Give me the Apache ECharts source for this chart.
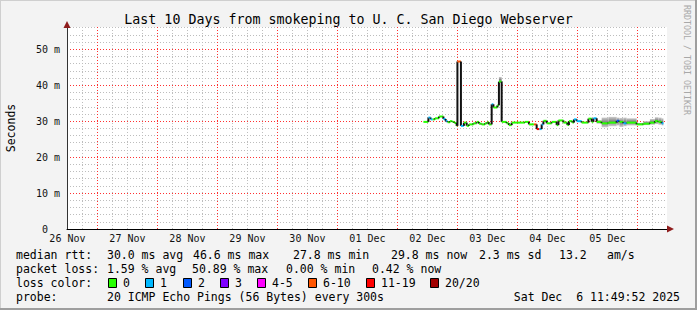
<!DOCTYPE html>
<html><head><meta charset="utf-8">
<script src="https://cdn.jsdelivr.net/npm/echarts@6/dist/echarts.min.js"></script>
<style>html,body{margin:0;padding:0;background:#f3f3f3}#c{width:697px;height:310px}</style>
</head><body><div id="c"></div>
<script>
// ---------- data ----------
const titleText = 'Last 10 Days from smokeping to U. C. San Diego Webserver';
const dayLabels = ['26 Nov','27 Nov','28 Nov','29 Nov','30 Nov','01 Dec','02 Dec','03 Dec','04 Dec','05 Dec'];
// time axis: hours since 26 Nov 00:00
const rangeStartH = 11.831;
const rangeEndH = 251.831;
const stepStartH = [154.4,156.4,157.3,158.1,159.0,160.6,162.4,163.3,164.1,165.0,166.0,166.8,167.7,168.0,169.4,170.6,171.7,172.6,174.4,175.7,176.6,177.7,179.0,180.0,180.6,181.7,182.4,184.0,184.6,185.7,187.7,188.6,189.7,195.0,196.6,198.6,199.7,200.8,201.7,202.4,203.7,205.7,207.7,208.4,210.4,212.0,212.6,214.0,214.6,215.7,217.7,220.4,221.7,222.4,223.7,225.7,228.4,231.7,232.8,234.4,235.7,239.7,242.4,245.0,247.0,248.4,249.7,250.4];
const medianMs = [29.8,31.0,30.5,30.5,30.8,31.3,30.6,30.0,29.7,30.0,29.8,29.5,28.7,46.6,28.7,29.6,28.7,29.1,29.4,29.8,29.3,29.1,29.4,29.7,29.1,34.7,33.8,34.4,41.0,29.8,29.4,28.9,29.6,29.8,29.1,29.1,27.8,27.8,29.1,30.1,29.4,29.8,28.9,30.2,29.6,28.9,30.0,29.6,30.5,30.0,29.6,30.7,29.8,30.8,29.8,29.4,29.6,30.1,29.8,29.4,29.6,29.1,29.3,29.6,30.0,29.8,29.4];
const lossPings = [0,1,1,0,0,0,1,1,0,0,0,0,0,8,1,0,0,0,0,0,0,0,0,0,0,1,0,0,0,0,0,0,0,0,0,8,15,1,1,0,0,0,0,0,0,0,0,0,1,1,0,0,0,1,0,0,0,2,0,1,0,0,0,0,0,0,1];
const smokeLoMs = [null,null,null,null,null,null,null,null,null,null,null,null,null,null,null,null,null,null,null,null,null,null,null,null,null,null,null,null,40.7,null,null,null,null,null,null,null,null,null,null,null,null,null,null,null,null,null,null,null,null,null,null,null,null,null,29.3,28.3,28.6,28.8,28.4,28.6,28.8,29.0,28.9,29.0,29.2,29.0,28.8];
const smokeHiMs = [null,null,null,null,null,null,null,null,null,null,null,null,null,null,null,null,null,null,null,null,null,null,null,null,null,null,null,null,42.3,null,null,null,null,null,null,null,null,null,null,null,null,null,null,null,null,null,null,null,null,null,null,null,null,null,30.3,31.0,31.2,31.0,30.9,31.0,30.8,29.5,30.0,30.6,31.1,31.0,30.8];
const lossBuckets = ['0','1','2','3','4-5','6-10','11-19','20/20'];
const lossColors = ['#26ff00','#00b8ff','#0059ff','#7e00ff','#ff00ff','#ff5500','#ff0000','#a10000'];
const legendLine1 = [['median rtt:',16],['30.0 ms avg',107],['46.6 ms max',193],['27.8 ms min',293],['29.8 ms now',391],['2.3 ms sd',479],['13.2',559],['am/s',607]];
const legendLine2 = [['packet loss:',16],['1.59 % avg',107],['50.89 % max',192],['0.00 % min',286],['0.42 % now',372]];
const lossBoxX = [108,145,183,220,257,308,366,430];
const probeText = '20 ICMP Echo Pings (56 Bytes) every 300s';
const dateText = 'Sat Dec  6 11:49:52 2025';
const yMax = 56.2;

// ---------- helpers ----------
function bucketOf(l){ if(l<=3) return l; if(l<=5) return 4; if(l<=10) return 5; if(l<=19) return 6; return 7; }
const MONO = '"DejaVu Sans Mono", monospace';
const medianData = medianMs.map((v,i)=>[stepStartH[i], stepStartH[i+1], v, i>0?medianMs[i-1]:'-', bucketOf(lossPings[i])]);
const smokeData = [];
smokeLoMs.forEach((lo,i)=>{ if(lo!=null) smokeData.push([stepStartH[i], stepStartH[i+1], lo, smokeHiMs[i]]); });

const chart = echarts.init(document.getElementById('c'), null, {renderer:'svg', width:697, height:310});
const grayLine = () => ({show:true, lineStyle:{color:'#bdbdbd', width:1, type:[1,2]}, showMinLine:false, showMaxLine:false});
const redLine = () => ({show:true, lineStyle:{color:'#ff3030', width:1, type:[1,2]}, showMinLine:false, showMaxLine:false});
const bare = (o) => Object.assign({type:'value', axisLine:{show:false}, axisTick:{show:false}, axisLabel:{show:false}, splitLine:{show:false}}, o);

// x axes: data axis, red midnight lines, gray 06/12/18 lines (shifted so their grid never overlaps the red one)
const xAxes = [
  bare({min:rangeStartH, max:rangeEndH, position:'bottom', axisLine:{show:true, onZero:false, lineStyle:{color:'#000', width:1}}}),
  bare({min:rangeStartH, max:rangeEndH, minInterval:24, maxInterval:24, position:'top', splitLine:redLine()})
];
[18, 12, 6].forEach(sh => {
  const ax = bare({min:rangeStartH+sh, max:rangeEndH+sh, minInterval:24, maxInterval:24, position:'bottom', splitLine:grayLine()});
  if (sh === 12) {
    ax.axisLabel = {show:true, showMinLabel:false, showMaxLabel:false, margin:4, color:'#111', fontFamily:'DejaVu Sans Mono', fontSize:10,
      formatter:(v)=>{ const k=Math.round(v/24)-1; return (Math.abs(v-24*(k+1))<0.01 && dayLabels[k]) ? dayLabels[k] : ''; }};
  }
  xAxes.push(ax);
});
const yLabelStyle = {color:'#111', fontFamily:'DejaVu Sans Mono', fontSize:10};
const yAxes = [
  bare({min:0, max:yMax, position:'left', axisLine:{show:true, onZero:false, lineStyle:{color:'#333', width:1}}}),
  bare({min:0, max:yMax, interval:10, position:'right', splitLine:redLine()})
];
[8, 6, 4, 2].forEach(sh => yAxes.push(bare({min:sh, max:yMax+sh, minInterval:10, maxInterval:10, position:'left', splitLine:grayLine()})));
yAxes.push(bare({min:0, max:yMax, interval:10, position:'left',
  axisLabel:Object.assign({show:true, showMinLabel:false, showMaxLabel:false, margin:7, formatter:(v)=>(v+' m')}, yLabelStyle)}));
yAxes.push(bare({min:0, max:yMax, interval:100, position:'left',
  axisLabel:Object.assign({show:true, showMaxLabel:false, margin:19, formatter:(v)=>(v===0?'0':'')}, yLabelStyle)}));

const graphics = [];
graphics.push({type:'rect', shape:{x:0,y:0,width:697,height:1}, style:{fill:'#cfcfcf'}, silent:true});
graphics.push({type:'rect', shape:{x:0,y:0,width:1,height:310}, style:{fill:'#cfcfcf'}, silent:true});
graphics.push({type:'rect', shape:{x:695,y:0,width:2,height:310}, style:{fill:'#9e9e9e'}, silent:true});
graphics.push({type:'rect', shape:{x:0,y:308,width:697,height:2}, style:{fill:'#9e9e9e'}, silent:true});
graphics.push({type:'text', x:348.5, y:19, style:{text:titleText, font:'13.3px '+MONO, fill:'#000', align:'center', verticalAlign:'middle'}});
graphics.push({type:'text', x:11, y:128, rotation:Math.PI/2, style:{text:'Seconds', font:'11.5px '+MONO, fill:'#000', align:'center', verticalAlign:'middle'}});
graphics.push({type:'text', x:687, y:60, rotation:-Math.PI/2, style:{text:'RRDTOOL / TOBI OETIKER', font:'8.3px '+MONO, fill:'#a8a8a8', align:'center', verticalAlign:'middle'}});
graphics.push({type:'polygon', shape:{points:[[67,21],[63.5,28],[70.5,28]]}, style:{fill:'#8f1d1d'}, z:10});
graphics.push({type:'polygon', shape:{points:[[674,229],[667,225.5],[667,232.5]]}, style:{fill:'#8f1d1d'}, z:10});
const L1=255, L2=269, L3=283, L4=297;
legendLine1.forEach(([t,x])=>graphics.push({type:'text', x:x, y:L1, style:{text:t, font:'11.5px '+MONO, fill:'#000', verticalAlign:'middle'}}));
legendLine2.forEach(([t,x])=>graphics.push({type:'text', x:x, y:L2, style:{text:t, font:'11.5px '+MONO, fill:'#000', verticalAlign:'middle'}}));
graphics.push({type:'text', x:16, y:L3, style:{text:'loss color:', font:'11.5px '+MONO, fill:'#000', verticalAlign:'middle'}});
lossBuckets.forEach((b,i)=>{
  graphics.push({type:'rect', shape:{x:lossBoxX[i]+0.5, y:278.5, width:8, height:9}, style:{fill:lossColors[i], stroke:'#000', lineWidth:1}});
  graphics.push({type:'text', x:lossBoxX[i]+15, y:L3, style:{text:b, font:'11.5px '+MONO, fill:'#000', verticalAlign:'middle'}});
});
graphics.push({type:'text', x:16, y:L4, style:{text:'probe:', font:'11.5px '+MONO, fill:'#000', verticalAlign:'middle'}});
graphics.push({type:'text', x:107, y:L4, style:{text:probeText, font:'11.5px '+MONO, fill:'#000', verticalAlign:'middle'}});
graphics.push({type:'text', x:680, y:L4, style:{text:dateText, font:'11.5px '+MONO, fill:'#000', align:'right', verticalAlign:'middle'}});

const option = {
  backgroundColor:'#f3f3f3',
  animation:false,
  grid:{left:67, right:30, top:27, bottom:81, show:true, backgroundColor:'#ffffff', borderWidth:0, containLabel:false, outerBoundsMode:'none'},
  xAxis:xAxes,
  yAxis:yAxes,
  series:[
    {type:'custom', name:'smoke', xAxisIndex:0, yAxisIndex:0, clip:true, z:6, encode:{x:[0,1], y:[2,3]},
     data:smokeData,
     renderItem:(params, api)=>{
       const a = api.coord([api.value(0), api.value(3)]);
       const b = api.coord([api.value(1), api.value(2)]);
       return {type:'rect', shape:{x:a[0], y:a[1], width:b[0]-a[0], height:b[1]-a[1]},
         style:{fill:new echarts.graphic.LinearGradient(0,0,0,1,[{offset:0,color:'#cccccc'},{offset:0.5,color:'#7c7c7c'},{offset:1,color:'#cccccc'}])}};
     }},
    {type:'custom', name:'median rtt', xAxisIndex:0, yAxisIndex:0, clip:true, z:7, encode:{x:[0,1], y:[2]},
     data:medianData,
     renderItem:(params, api)=>{
       const t0=api.value(0), t1=api.value(1), v=api.value(2), pv=api.value(3), b=api.value(4);
       const p0 = api.coord([t0, v]), p1 = api.coord([t1, v]);
       const children = [];
       if (!isNaN(pv)) {
         const pp = api.coord([t0, pv]);
         children.push({type:'line', shape:{x1:p0[0], y1:pp[1], x2:p0[0], y2:p0[1]}, style:{stroke:'#111', lineWidth:2}});
       }
       children.push({type:'line', shape:{x1:p0[0], y1:p0[1], x2:p1[0], y2:p1[1]}, style:{stroke:lossColors[b], lineWidth:2}});
       return {type:'group', children};
     }}
  ],
  graphic:graphics
};
chart.setOption(option);
</script>
</body></html>
